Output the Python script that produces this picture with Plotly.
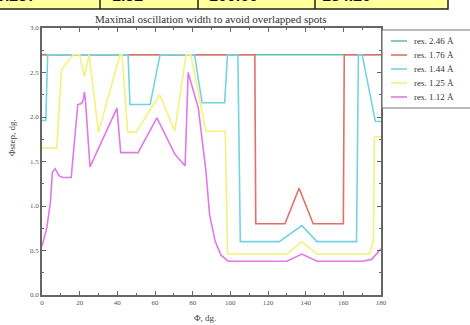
import plotly.graph_objects as go

# ---- data ----
names = ["res. 2.46 Å", "res. 1.76 Å", "res. 1.44 Å", "res. 1.25 Å", "res. 1.12 Å"]
colors = ["#62c49c", "#e36f66", "#74d3e2", "#f4f27c", "#e07ae4"]

phi_246 = [0, 180]
val_246 = [2.7, 2.7]

phi_176 = [0, 113, 113.5, 129, 136.5, 144, 160, 160.5, 180]
val_176 = [2.7, 2.7, 0.8, 0.8, 1.2, 0.8, 0.8, 2.7, 2.7]

phi_144 = [0, 2, 3, 45.7, 46.7, 57.4, 62.7, 81, 85, 97, 98.5, 104, 105.3, 126, 138, 146, 167, 168, 170, 177, 180]
val_144 = [1.96, 1.96, 2.7, 2.7, 2.14, 2.14, 2.7, 2.7, 2.16, 2.16, 2.7, 2.7, 0.6, 0.6, 0.78, 0.6, 0.6, 2.7, 2.7, 1.95, 1.95]

phi_125 = [0, 7.8, 10.4, 16.5, 20, 22.5, 25, 30, 41.4, 42.5, 45.5, 50, 62.5, 70.5, 76.5, 79, 87, 97.3, 98.5,
           130, 138, 146, 174, 176, 176.5, 180]
val_125 = [1.65, 1.65, 2.53, 2.7, 2.7, 2.45, 2.7, 1.83, 2.7, 2.7, 1.83, 1.83, 2.25, 1.84, 2.7, 2.7, 1.84, 1.84, 0.46,
           0.46, 0.6, 0.46, 0.46, 0.62, 1.78, 1.78]

phi_112 = [0, 2.5, 4.5, 5.5, 7, 9, 11, 15.5, 19, 21, 22, 22.5, 23, 25.5, 39.8, 41.8, 51, 61, 70.6, 76, 77.6,
           83, 87, 89, 92, 95, 98.8, 130, 138, 146, 170, 175, 180]
val_112 = [0.55, 0.75, 1.05, 1.38, 1.42, 1.34, 1.32, 1.32, 2.14, 2.15, 2.2, 2.28, 2.2, 1.44, 2.1, 1.6, 1.6, 1.99, 1.58, 1.45, 2.5,
           2.1, 1.4, 0.9, 0.6, 0.45, 0.38, 0.38, 0.46, 0.38, 0.38, 0.4, 0.52]

x_ticks = list(range(0, 181, 20))
y_ticks = [0.0, 0.5, 1.0, 1.5, 2.0, 2.5, 3.0]

title = "Maximal oscillation width to avoid overlapped spots"
x_title = "Φ, dg."
y_title = "Φstep, dg."

table_texts = ["0.237", "1.32", "100.00", "184.20"]

# ---- figure ----
W, H = 470, 325
L, R, T, B = 42, 89, 28, 30
PW, PH = W - L - R, H - T - B

def px2x(px):
    return (px - L) / PW

def py2y(py):
    return (H - B - py) / PH

serif = "Liberation Serif, Times New Roman, serif"
fig = go.Figure()
series = [(phi_246, val_246), (phi_176, val_176), (phi_144, val_144), (phi_125, val_125), (phi_112, val_112)]
for (xs, ys), n, c in zip(series, names, colors):
    fig.add_trace(go.Scatter(x=xs, y=ys, mode="lines", name=n, showlegend=False,
                             line=dict(color=c, width=1.6)))

axcommon = dict(showline=True, linecolor="#666", linewidth=1.5, mirror="ticks",
                ticks="inside", ticklen=4, tickcolor="#666", showgrid=False, zeroline=False,
                tickfont=dict(family=serif, size=7, color="#555"))
fig.update_xaxes(range=[0, 180], tickvals=x_ticks, minor=dict(dtick=10, ticks="inside", ticklen=2, tickcolor="#666"), **axcommon)
fig.update_yaxes(range=[0, 3.0], tickvals=y_ticks, tickformat=".1f",
                 minor=dict(dtick=0.25, ticks="inside", ticklen=2, tickcolor="#666"), **axcommon)

shapes = []
annotations = []
# partial table strip at top
shapes.append(dict(type="rect", xref="paper", yref="paper", x0=px2x(-2), x1=px2x(448), y0=py2y(9), y1=py2y(-5),
                   fillcolor="#ffff9c", line=dict(color="#222", width=1.5), layer="above"))
for bx in [100, 198, 315]:
    shapes.append(dict(type="line", xref="paper", yref="paper", x0=px2x(bx), x1=px2x(bx), y0=py2y(9), y1=py2y(-5),
                       line=dict(color="#222", width=1.5)))
for tx, t in zip([-6, 110, 207, 320], table_texts):
    annotations.append(dict(text="<b>" + t + "</b>", xref="paper", yref="paper", x=px2x(tx), y=py2y(6),
                            xanchor="left", yanchor="bottom", showarrow=False,
                            font=dict(family="Liberation Sans, Arial", size=16, color="#111")))

# legend box (drawn manually for compact spacing)
shapes.append(dict(type="rect", xref="paper", yref="paper", x0=px2x(382), x1=px2x(476), y0=py2y(108), y1=py2y(30),
                   fillcolor="white", line=dict(color="#777", width=1.2), layer="above"))
for i, (n, c) in enumerate(zip(names, colors)):
    yy = 41 + 14 * i
    shapes.append(dict(type="line", xref="paper", yref="paper", x0=px2x(391), x1=px2x(407), y0=py2y(yy), y1=py2y(yy),
                       line=dict(color=c, width=1.6), layer="above"))
    annotations.append(dict(text=n, xref="paper", yref="paper", x=px2x(412), y=py2y(yy), xanchor="left",
                            yanchor="middle", showarrow=False, font=dict(family=serif, size=9, color="#333")))

annotations.append(dict(text=title, xref="paper", yref="paper", x=px2x(211), y=py2y(19), xanchor="center",
                        yanchor="middle", showarrow=False, font=dict(family=serif, size=11, color="#333")))
annotations.append(dict(text=x_title, xref="paper", yref="paper", x=px2x(205), y=py2y(318), xanchor="center",
                        yanchor="middle", showarrow=False, font=dict(family=serif, size=9, color="#444")))
annotations.append(dict(text=y_title, xref="paper", yref="paper", x=px2x(12), y=py2y(138), xanchor="center",
                        yanchor="middle", showarrow=False, textangle=-90, font=dict(family=serif, size=9, color="#444")))

fig.update_layout(
    width=W, height=H, margin=dict(l=L, r=R, t=T, b=B),
    paper_bgcolor="white", plot_bgcolor="white",
    showlegend=False,
    shapes=shapes, annotations=annotations,
)

fig.write_html("out.html")
